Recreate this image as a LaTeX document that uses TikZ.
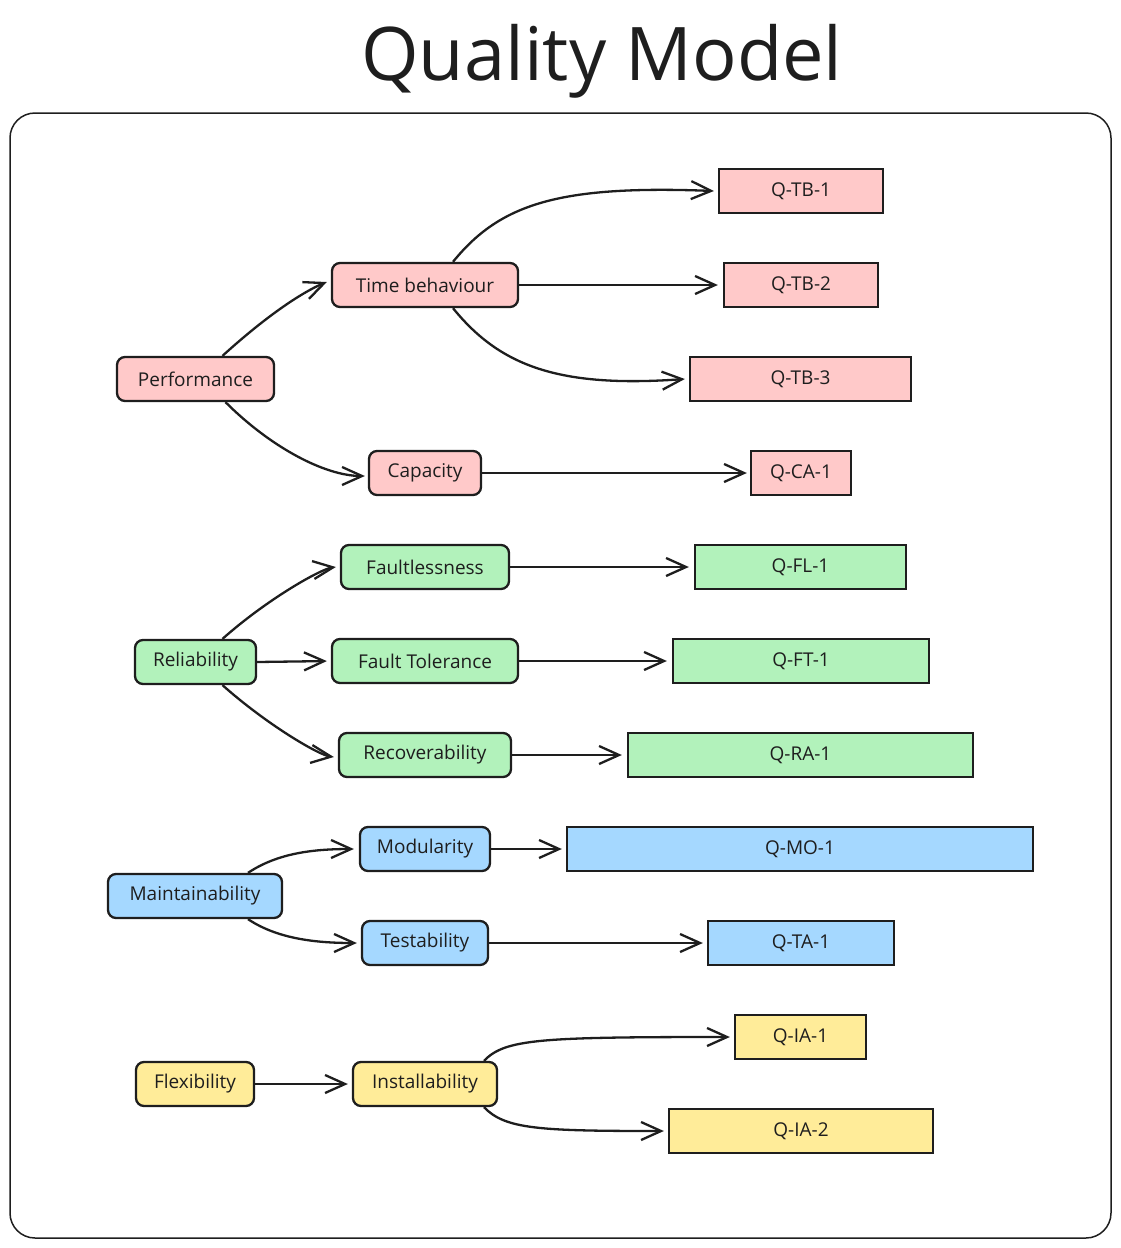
\documentclass[tikz,border=0pt]{standalone}
\usepackage{fontspec}
\setmainfont{Open Sans}
\usetikzlibrary{arrows.meta}
\definecolor{ink}{HTML}{1E1E1E}
\definecolor{pinkf}{HTML}{FFC9C9}
\definecolor{greenf}{HTML}{B2F2BB}
\definecolor{bluef}{HTML}{A5D8FF}
\definecolor{yellowf}{HTML}{FFEC99}
\tikzset{
  base/.style={draw=ink, line width=2.3pt, text=ink, inner sep=0pt, minimum height=44pt,
    font=\fontsize{19}{22}\selectfont},
  catbox/.style={base, rounded corners=8pt},
  qbox/.style={base},
  conn/.style={draw=ink, line width=2.3pt, -{Straight Barb[length=20pt,width=18pt,line width=2.3pt]}},
}
\begin{document}
\begin{tikzpicture}[x=1pt,y=-1pt]
\useasboundingbox (0,0) rectangle (1121,1248);
\node[draw=ink, line width=1.5pt, rounded corners=25pt, minimum width=1101pt, minimum height=1125pt] (frame) at (560.5,675.5) {};
\node[text=ink, font=\fontsize{74}{78}\selectfont, anchor=base] (title) at (602,80) {Quality Model};

% level 1
\node[catbox, fill=pinkf, minimum width=157pt] (perf) at (195.5,379) {Performance};
\node[catbox, fill=greenf, minimum width=121pt] (rel) at (195.5,662) {Reliability};
\node[catbox, fill=bluef, minimum width=174pt] (maint) at (195,896) {Maintainability};
\node[catbox, fill=yellowf, minimum width=118pt] (flex) at (195,1084) {Flexibility};

% level 2
\node[catbox, fill=pinkf, minimum width=186pt] (tb) at (425,285) {Time behaviour};
\node[catbox, fill=pinkf, minimum width=112pt] (cap) at (425,473) {Capacity};
\node[catbox, fill=greenf, minimum width=168pt] (fl) at (425,567) {Faultlessness};
\node[catbox, fill=greenf, minimum width=186pt] (ft) at (425,661) {Fault Tolerance};
\node[catbox, fill=greenf, minimum width=172pt] (rec) at (425,755) {Recoverability};
\node[catbox, fill=bluef, minimum width=130pt] (mod) at (425,849) {Modularity};
\node[catbox, fill=bluef, minimum width=126pt] (test) at (425,943) {Testability};
\node[catbox, fill=yellowf, minimum width=144pt] (inst) at (425,1084) {Installability};

% level 3
\node[qbox, fill=pinkf, minimum width=164pt] (qtb1) at (801,191) {Q-TB-1};
\node[qbox, fill=pinkf, minimum width=154pt] (qtb2) at (801,285) {Q-TB-2};
\node[qbox, fill=pinkf, minimum width=221pt] (qtb3) at (800.5,379) {Q-TB-3};
\node[qbox, fill=pinkf, minimum width=100pt] (qca1) at (801,473) {Q-CA-1};
\node[qbox, fill=greenf, minimum width=211pt] (qfl1) at (800.5,567) {Q-FL-1};
\node[qbox, fill=greenf, minimum width=256pt] (qft1) at (801,661) {Q-FT-1};
\node[qbox, fill=greenf, minimum width=345pt] (qra1) at (800.5,755) {Q-RA-1};
\node[qbox, fill=bluef, minimum width=466pt] (qmo1) at (800,849) {Q-MO-1};
\node[qbox, fill=bluef, minimum width=186pt] (qta1) at (801,943) {Q-TA-1};
\node[qbox, fill=yellowf, minimum width=131pt] (qia1) at (800.5,1037) {Q-IA-1};
\node[qbox, fill=yellowf, minimum width=264pt] (qia2) at (801,1131) {Q-IA-2};

% connectors: Performance
\draw[conn] ([xshift=27pt]perf.north) .. controls +(55,-50) and +(-15,6) .. ([xshift=-4pt,yshift=3pt]tb.west);
\draw[conn] ([xshift=30pt]perf.south) .. controls +(45,45) and +(-40,0) .. ([xshift=-3pt,yshift=-3pt]cap.west);
\draw[conn] ([xshift=28pt]tb.north) .. controls +(47,-58) and +(-155,-6) .. ([xshift=-4pt]qtb1.west);
\draw[conn, shorten >=5pt] (tb.east) -- (qtb2.west);
\draw[conn] ([xshift=28pt]tb.south) .. controls +(47,58) and +(-126,9) .. ([xshift=-4pt]qtb3.west);
\draw[conn, shorten >=3pt] (cap.east) -- (qca1.west);

% Reliability
\draw[conn] ([xshift=27pt]rel.north) .. controls +(45,-40) and +(-15,2) .. ([xshift=-4pt]fl.west);
\draw[conn, shorten >=4pt] (rel.east) -- (ft.west);
\draw[conn] ([xshift=27pt]rel.south) .. controls +(45,40) and +(-15,-2) .. ([xshift=-4pt,yshift=-2pt]rec.west);
\draw[conn, shorten >=5pt] (fl.east) -- (qfl1.west);
\draw[conn, shorten >=5pt] (ft.east) -- (qft1.west);
\draw[conn, shorten >=5pt] (rec.east) -- (qra1.west);

% Maintainability
\draw[conn] ([xshift=53pt]maint.north) .. controls +(30,-20) and +(-40,0) .. ([xshift=-5pt]mod.west);
\draw[conn] ([xshift=53pt]maint.south) .. controls +(30,20) and +(-40,0) .. ([xshift=-4pt]test.west);
\draw[conn, shorten >=4pt] (mod.east) -- (qmo1.west);
\draw[conn, shorten >=4pt] (test.east) -- (qta1.west);

% Flexibility
\draw[conn, shorten >=4pt] (flex.east) -- (inst.west);
\draw[conn] ([xshift=59pt]inst.north) .. controls +(21,-22) and +(-190,0) .. ([xshift=-4pt]qia1.west);
\draw[conn] ([xshift=59pt]inst.south) .. controls +(21,22) and +(-125,0) .. ([xshift=-4pt]qia2.west);
\end{tikzpicture}
\end{document}
